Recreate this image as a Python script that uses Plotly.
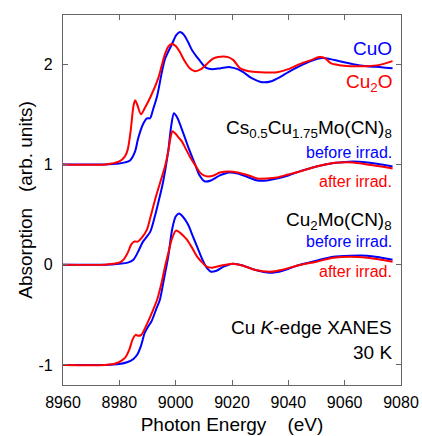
import plotly.graph_objects as go

# ---- data ----
cuo_e = [8960, 8975, 8980, 8982, 8983.8, 8985.6, 8986.6, 8988.4, 8989.8, 8990.9, 8992, 8993.4, 8995.1, 8996.2,
         8998.7, 9000.2, 9001.5, 9003, 9004.4, 9006, 9007.6, 9009.5, 9011, 9013, 9016, 9019.3, 9022, 9024,
         9027, 9030.7, 9034, 9037, 9040, 9044, 9048, 9052, 9055, 9058, 9063, 9068, 9073, 9077]
cuo_y = [1.0, 1.0, 1.01, 1.02, 1.04, 1.13, 1.25, 1.40, 1.46, 1.46, 1.55, 1.68, 1.92, 2.05,
         2.20, 2.29, 2.32, 2.29, 2.22, 2.13, 2.07, 2.00, 1.96, 1.95, 1.96, 1.97, 1.95, 1.92,
         1.86, 1.82, 1.83, 1.87, 1.92, 1.98, 2.03, 2.06, 2.05, 2.03, 2.00, 1.98, 1.97, 1.96]

cu2o_e = [8960, 8975, 8980, 8982, 8983, 8984, 8985, 8985.6, 8986.3, 8987.7, 8989, 8991, 8993.7, 8995, 8996.2,
          8997.5, 8998.7, 9000, 9001.5, 9003, 9005, 9006.9, 9009, 9011, 9013, 9015, 9018.6, 9020.5,
          9022.8, 9026, 9030, 9036, 9040, 9044, 9048, 9051, 9053, 9055, 9058, 9062, 9068, 9072, 9077]
cu2o_y = [1.0, 1.0, 1.03, 1.08, 1.15, 1.33, 1.58, 1.64, 1.60, 1.50, 1.56, 1.67, 1.85, 1.98, 2.10,
          2.18, 2.20, 2.18, 2.12, 2.04, 1.96, 1.93, 1.95, 2.00, 2.05, 2.07, 2.07, 2.04,
          1.96, 1.93, 1.92, 1.92, 1.95, 2.00, 2.04, 2.07, 2.06, 2.01, 1.99, 1.98, 1.98, 1.99, 2.03]

cs_before_e = [8960, 8975, 8980, 8983, 8985, 8986.5, 8988.4, 8989.5, 8991, 8992.5, 8994.1, 8995.5, 8997.3,
               8998.4, 8999.4, 9000.5, 9002.6, 9004.5, 9006.9, 9008.5, 9010.4, 9012.5, 9015.7, 9019, 9022,
               9026, 9029, 9032.4, 9036, 9040, 9044, 9050, 9055, 9058.3, 9063, 9068, 9073, 9077]
cs_before_y = [0.0, 0.0, 0.01, 0.02, 0.05, 0.12, 0.23, 0.27, 0.33, 0.47, 0.65, 0.82, 1.12,
               1.38, 1.51, 1.47, 1.32, 1.17, 1.00, 0.89, 0.83, 0.84, 0.89, 0.92, 0.91,
               0.87, 0.84, 0.84, 0.86, 0.89, 0.93, 0.98, 1.01, 1.02, 1.03, 1.02, 1.00, 0.98]

cs_after_e = [8960, 8975, 8978, 8980, 8981.5, 8983, 8984.2, 8985.2, 8986.5, 8988, 8989.8, 8991, 8992.7,
              8994.5, 8996.2, 8997.5, 8998.2, 8998.9, 8999.8, 9001, 9002.2, 9003.5, 9005, 9007, 9008.6,
              9010, 9011.5, 9013.5, 9015.7, 9019, 9022, 9026, 9029, 9032.4, 9036, 9040, 9044, 9050,
              9055, 9058.3, 9063, 9068, 9073, 9077]
cs_after_y = [0.0, 0.0, 0.01, 0.02, 0.05, 0.12, 0.20, 0.23, 0.23, 0.27, 0.35, 0.47, 0.65,
              0.82, 0.98, 1.15, 1.27, 1.33, 1.31, 1.27, 1.23, 1.16, 1.08, 0.99, 0.92,
              0.89, 0.88, 0.89, 0.92, 0.93, 0.92, 0.89, 0.86, 0.86, 0.87, 0.90, 0.93, 0.98,
              1.01, 1.02, 1.02, 1.00, 0.98, 0.96]

cm_before_e = [8960, 8975, 8980, 8983, 8985, 8986.5, 8987.8, 8989, 8990.2, 8991.5, 8993, 8994.4, 8995.8,
               8997.3, 8998.8, 9000, 9001.2, 9002.5, 9004.4, 9006, 9007.6, 9009.5, 9011, 9012.5, 9014.5,
               9017, 9020.3, 9024, 9028, 9033.5, 9038, 9043, 9050, 9056, 9062, 9068, 9073, 9077]
cm_before_y = [-1.0, -1.0, -0.99, -0.97, -0.94, -0.89, -0.80, -0.68, -0.62, -0.56, -0.45, -0.35, -0.15,
               0.07, 0.36, 0.48, 0.51, 0.48, 0.40, 0.29, 0.18, 0.05, -0.03, -0.07, -0.06,
               -0.02, 0.01, -0.01, -0.05, -0.08, -0.06, -0.01, 0.04, 0.08, 0.09, 0.09, 0.07, 0.05]

cm_after_e = [8960, 8975, 8978, 8980, 8982, 8983.5, 8984.8, 8985.8, 8986.8, 8987.8, 8989, 8990, 8991.7,
              8993.4, 8995, 8996.2, 8997.5, 8998.7, 9000.1, 9001.5, 9003, 9004, 9006, 9007.6, 9009.5,
              9011, 9013, 9016, 9020.3, 9024, 9028, 9033.5, 9038, 9043, 9050, 9056, 9062, 9068, 9073, 9077]
cm_after_y = [-1.0, -1.0, -0.99, -0.97, -0.93, -0.85, -0.74, -0.70, -0.71, -0.70, -0.64, -0.58, -0.47,
              -0.35, -0.18, -0.02, 0.13, 0.26, 0.34, 0.32, 0.28, 0.25, 0.16, 0.08, 0.02,
              -0.02, -0.03, -0.01, 0.01, -0.01, -0.05, -0.07, -0.05, -0.01, 0.03, 0.07, 0.08, 0.07, 0.05, 0.03]

x_ticks = [8960, 8980, 9000, 9020, 9040, 9060, 9080]
y_ticks = [-1, 0, 1, 2]

BLUE = "#0000FF"
RED = "#FF0000"
FONT = "Liberation Sans, Arial, sans-serif"

fig = go.Figure()
series = [
    (cuo_e, cuo_y, BLUE), (cu2o_e, cu2o_y, RED),
    (cs_before_e, cs_before_y, BLUE), (cs_after_e, cs_after_y, RED),
    (cm_before_e, cm_before_y, BLUE), (cm_after_e, cm_after_y, RED),
]
for xs, ys, c in series:
    fig.add_trace(go.Scatter(x=xs, y=ys, mode="lines",
                             line=dict(color=c, width=2, shape="spline", smoothing=0.8),
                             showlegend=False, hoverinfo="skip"))

labels = [
    ("CuO", 2.16, BLUE, 19),
    ("Cu<sub>2</sub>O", 1.81, RED, 19),
    ("Cs<sub>0.5</sub>Cu<sub>1.75</sub>Mo(CN)<sub>8</sub>", 1.35, "black", 19),
    ("before irrad.", 1.12, BLUE, 16),
    ("after irrad.", 0.83, RED, 16),
    ("Cu<sub>2</sub>Mo(CN)<sub>8</sub>", 0.44, "black", 19),
    ("before irrad.", 0.23, BLUE, 16),
    ("after irrad.", -0.07, RED, 16),
    ("Cu <i>K</i>-edge XANES", -0.63, "black", 19),
    ("30 K", -0.88, "black", 19),
]
for txt, yv, c, fs in labels:
    fig.add_annotation(x=0.979, xref="paper", y=yv, yref="y", text=txt, showarrow=False,
                       xanchor="right", yanchor="middle", font=dict(color=c, size=fs, family=FONT))

axis_common = dict(showline=True, linecolor="#666666", linewidth=1.3, mirror="ticks",
                   ticks="inside", ticklen=5, tickwidth=1.2, tickcolor="#666666",
                   showgrid=False, zeroline=False, automargin=False,
                   tickfont=dict(size=16, color="black", family=FONT))

fig.update_xaxes(range=[8960, 9080], tickvals=x_ticks, ticktext=[str(v) for v in x_ticks],
                 title=dict(text="Photon Energy\u00a0\u00a0\u00a0\u00a0(eV)", font=dict(size=19, color="black", family=FONT), standoff=7),
                 ticklabelstandoff=3, **axis_common)
fig.update_yaxes(range=[-1.2, 2.49], tickvals=y_ticks, ticktext=[str(v) for v in y_ticks],
                 title=dict(text="Absorption\u00a0\u00a0\u00a0(arb. units)", font=dict(size=19, color="black", family=FONT), standoff=0),
                 ticklabelstandoff=6, **axis_common)

fig.update_layout(width=422, height=436, margin=dict(l=63, r=21, t=15, b=51),
                  plot_bgcolor="white", paper_bgcolor="white", font=dict(family=FONT))

fig.write_html("out.html", config={"displayModeBar": False},
               post_script="document.body.style.margin='0';document.body.style.overflow='hidden';")
